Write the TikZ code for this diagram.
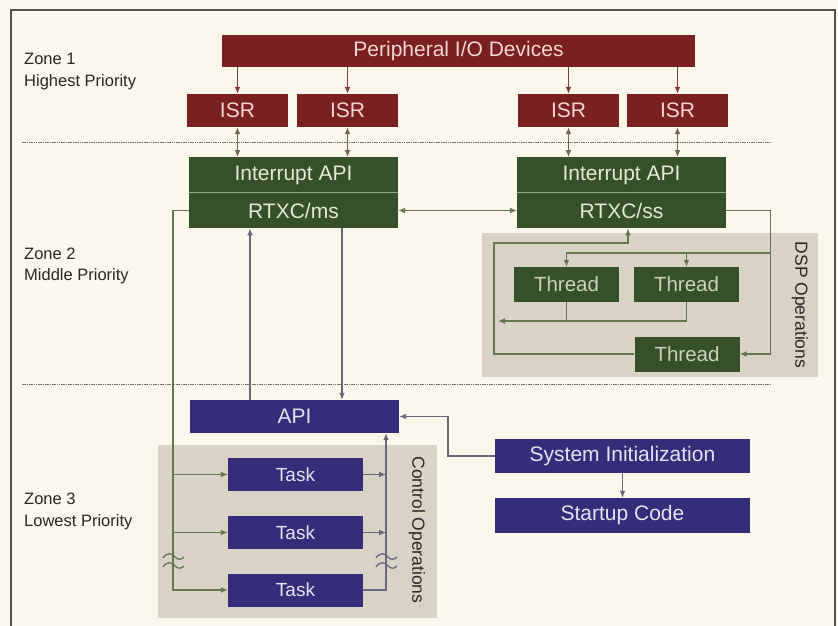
\documentclass[tikz,border=0pt]{standalone}
\usepackage{fontspec}
\setmainfont{Liberation Sans}
\usetikzlibrary{arrows.meta,calc}
\definecolor{bg}{RGB}{251,247,236}
\definecolor{redc}{RGB}{122,32,32}
\definecolor{redt}{RGB}{246,214,206}
\definecolor{grnc}{RGB}{54,80,42}
\definecolor{grnt}{RGB}{226,234,212}
\definecolor{bluc}{RGB}{52,46,122}
\definecolor{blut}{RGB}{228,226,242}
\definecolor{region}{RGB}{216,210,199}
\definecolor{framec}{RGB}{80,80,76}
\definecolor{lred}{RGB}{128,64,56}
\definecolor{lmix}{RGB}{118,100,80}
\definecolor{lgrn}{RGB}{100,118,80}
\definecolor{lblu}{RGB}{104,102,124}
\definecolor{zonet}{RGB}{40,40,38}
\definecolor{zline}{RGB}{120,120,112}
\begin{document}
\begin{tikzpicture}[x=1pt,y=-1pt,
  box/.style={inner sep=0pt, minimum height=33pt, font=\fontsize{21}{21}\selectfont},
  redbox/.style={box, fill=redc, text=redt},
  grnbox/.style={box, fill=grnc, text=grnt, minimum width=209pt, minimum height=35.5pt},
  thread/.style={box, fill=grnc, text=grnt!85!grnc, minimum width=105pt, minimum height=35pt, font=\fontsize{20.5}{20.5}\selectfont},
  blubox/.style={box, fill=bluc, text=blut},
  task/.style={box, fill=bluc, text=blut, minimum width=135pt, font=\fontsize{19}{19}\selectfont},
  zlabel/.style={anchor=base west, inner sep=0pt, text=zonet, font=\fontsize{16.5}{16.5}\selectfont},
  rlabel/.style={rotate=-90, inner sep=0pt, text=zonet, font=\fontsize{17.5}{17.5}\selectfont},
  conn/.style={line width=1.4pt},
  arr/.style={-{Latex[length=7pt,width=6pt]}},
  arrboth/.style={{Latex[length=7pt,width=6pt]}-{Latex[length=7pt,width=6pt]}},
  zdiv/.style={zline, line width=0.9pt, dash pattern=on 1.6pt off 0.7pt},
  squig/.style={line width=1.3pt}
]
\fill[bg] (0,0) rectangle (838,626);
\useasboundingbox (0,0) rectangle (838,626);
\draw[framec, line width=1.4pt] (11,626) -- (11,10) -- (835,10) -- (835,626);

% regions
\fill[region] (158,445) rectangle (437,618);
\fill[region] (482,233) rectangle (818,377);

% zone dividers
\draw[zdiv] (22,142) -- (770,142);
\draw[zdiv] (22,384) -- (770,384);

% zone labels
\node[zlabel] (z1a) at (24,64) {Zone 1};
\node[zlabel] (z1b) at (24,86) {Highest Priority};
\node[zlabel] (z2a) at (24,259) {Zone 2};
\node[zlabel] (z2b) at (24,280) {Middle Priority};
\node[zlabel] (z3a) at (24,504) {Zone 3};
\node[zlabel] (z3b) at (24,526) {Lowest Priority};

% zone 1
\node[redbox, minimum width=473pt, minimum height=32pt] (pio) at (458.5,51) {Peripheral I/O Devices};
\node[redbox, minimum width=101pt] (isr1) at (237.5,110.5) {ISR};
\node[redbox, minimum width=101pt] (isr2) at (347.5,110.5) {ISR};
\node[redbox, minimum width=101pt] (isr3) at (568.5,110.5) {ISR};
\node[redbox, minimum width=101pt] (isr4) at (677.5,110.5) {ISR};

% zone 2
\node[grnbox] (iapiL) at (293.5,175) {Interrupt API};
\node[grnbox] (rtms) at (293.5,210.5) {RTXC/ms};
\node[grnbox] (iapiR) at (621.5,175) {Interrupt API};
\node[grnbox] (rtss) at (621.5,210.5) {RTXC/ss};
\draw[grnt!55!grnc, line width=1pt] (iapiL.south west) -- (iapiL.south east);
\draw[grnt!55!grnc, line width=1pt] (iapiR.south west) -- (iapiR.south east);

\node[thread] (th1) at (566.5,284.5) {Thread};
\node[thread] (th2) at (686.5,284.5) {Thread};
\node[thread] (th3) at (687,354) {Thread};

\node[rlabel] (dsp) at (800,305) {DSP Operations};

% zone 3
\node[blubox, minimum width=209pt] (api) at (294.5,416.5) {API};
\node[task] (t1) at (295.5,474.5) {Task};
\node[task] (t2) at (295.5,532.5) {Task};
\node[task] (t3) at (295.5,590) {Task};
\node[blubox, minimum width=255pt, minimum height=34pt] (si) at (622.5,456) {System Initialization};
\node[blubox, minimum width=255pt, minimum height=35pt] (sc) at (622.5,515.5) {Startup Code};

\node[rlabel] (ctl) at (417,530) {Control Operations};

% connectors zone 1
\foreach \i in {1,2,3,4}{
  \draw[lred, conn, arr] (isr\i.north |- pio.south) -- (isr\i.north);
}
\draw[lmix, conn, arrboth] (isr1.south) -- (isr1.south |- iapiL.north);
\draw[lmix, conn, arrboth] (isr2.south) -- (isr2.south |- iapiL.north);
\draw[lmix, conn, arrboth] (isr3.south) -- (isr3.south |- iapiR.north);
\draw[lmix, conn, arrboth] (isr4.south) -- (isr4.south |- iapiR.north);

% zone 2
\draw[lgrn, conn, arrboth] (rtms.east) -- (rtss.west);

\coordinate (lx) at (173,590);
\draw[lgrn, conn, arr] (rtms.west) -| (lx) -- (t3.west);
\draw[lgrn, conn, arr] (lx |- t1.west) -- (t1.west);
\draw[lgrn, conn, arr] (lx |- t2.west) -- (t2.west);

\draw[lblu, conn, arr] ([xshift=-44.5pt]api.north) -- ([xshift=-44.5pt]api.north |- rtms.south);
\draw[lblu, conn, arr] ([xshift=48.5pt]rtms.south) -- ([xshift=48.5pt]rtms.south |- api.north);

% DSP
\draw[lgrn, conn, arr] (rtss.east) -- ++(44,0) |- (th3.east);
\coordinate (dj) at (770,253);
\draw[lgrn, conn, arr] (dj) -| (th1.north);
\draw[lgrn, conn, arr] (th2.north |- dj) -- (th2.north);
\coordinate (dl) at (494,243);
\draw[lgrn, conn, arr] (th3.west) -| (dl) -| ([xshift=6.5pt]rtss.south);
\coordinate (dm) at (498,321);
\draw[lgrn, conn, arr] (th2.south) |- (dm);
\draw[lgrn, conn] (th1.south) -- (th1.south |- dm);

% zone 3
\coordinate (rx) at (386,590);
\draw[lblu, conn, arr] (t3.east) -- (rx) -- (rx |- api.south);
\draw[lblu, conn, arr] (t1.east) -- (rx |- t1.east);
\draw[lblu, conn, arr] (t2.east) -- (rx |- t2.east);

\draw[lblu, conn, arr] (si.west) -- ++(-47,0) |- (api.east);
\draw[lblu, conn, arr] (si.south) -- (sc.north);

% break marks
\foreach \cx/\cc in {173/lgrn, 386/lblu}{
  \foreach \cy in {557,566}{
    \draw[\cc, squig] (\cx-10,\cy+1) .. controls (\cx-6,\cy-5) and (\cx-1,\cy-4) .. (\cx+2,\cy)
      .. controls (\cx+5,\cy+3) and (\cx+8,\cy+3) .. (\cx+11,\cy);
  }
}
\end{tikzpicture}
\end{document}
